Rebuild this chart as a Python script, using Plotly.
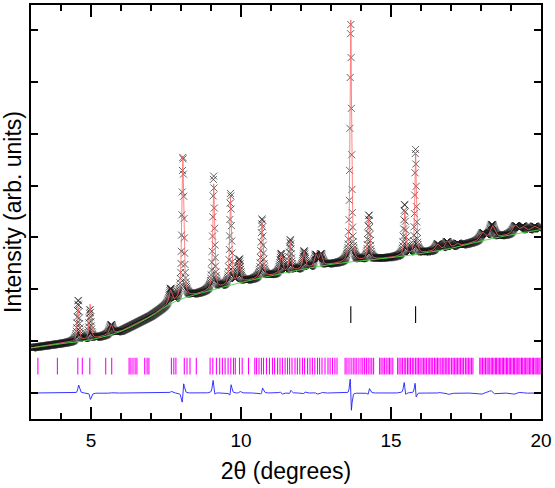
import numpy as np
import plotly.graph_objects as go

# ---------------- data ----------------
# background (green line) anchor points: 2theta, intensity
bg_x = [3.0, 4.0, 5.0, 6.0, 7.0, 7.5, 8.0, 9.0, 10.0, 11.0, 12.0, 13.0, 14.0,
        15.0, 16.0, 17.0, 18.0, 19.0, 20.0]
bg_y = [0.87, 0.95, 1.03, 1.19, 1.48, 1.67, 1.81, 1.98, 2.13, 2.26, 2.38, 2.48,
        2.55, 2.61, 2.69, 2.79, 2.93, 3.05, 3.15]

# Bragg peaks: position, height above background, FWHM
peak_pos = [4.57, 4.97, 5.67, 7.65, 8.06, 9.09, 9.65, 9.94, 10.70, 11.34,
            11.64, 12.10, 12.50, 12.66, 13.66, 14.26, 15.46, 15.82, 16.55,
            16.88, 17.20, 18.05, 18.38, 19.14, 19.40, 19.77]
peak_h = [0.66, 0.68, 0.18, 0.26, 2.74, 2.03, 1.68, 0.42, 1.08, 0.38,
          0.58, 0.34, 0.22, 0.22, 4.66, 0.82, 0.86, 1.95, 0.12,
          0.15, 0.06, 0.15, 0.24, 0.16, 0.10, 0.08]
peak_w = [0.08, 0.08, 0.12, 0.12, 0.08, 0.07, 0.07, 0.10, 0.08, 0.10,
          0.08, 0.10, 0.12, 0.12, 0.06, 0.08, 0.07, 0.06, 0.15,
          0.15, 0.15, 0.20, 0.18, 0.20, 0.20, 0.20]
# observed-vs-calculated mismatch per peak (gives the difference curve)
obs_shift = [0.004, -0.004, 0.003, 0.004, 0.004, -0.003, 0.003, 0.003,
             0.003, -0.004, 0.003, 0.004, -0.006, 0.006, -0.003, 0.004,
             -0.006, -0.003, 0.01, -0.012, 0.01, 0.015, -0.015, 0.012, -0.01, 0.01]
obs_scale = [1.20, 0.85, 1.0, 1.1, 1.0, 1.08, 1.05, 1.05, 1.05, 1.0,
             1.05, 1.0, 1.0, 1.0, 0.99, 1.05, 1.15, 1.04, 1.0,
             0.9, 1.0, 0.9, 1.1, 0.9, 1.1, 1.0]

# reflection markers
phase1_ticks = [3.23, 3.88, 4.56, 4.71, 4.96, 5.49, 5.69, 6.27, 6.33, 6.40, 6.47,
                6.53, 6.79, 6.87, 6.93, 7.68, 7.76, 7.83, 8.11, 8.20, 8.30, 8.51,
                8.97, 9.06, 9.18, 9.29, 9.38, 9.47, 9.57, 9.66, 9.75, 9.81, 9.95,
                10.04, 10.25, 10.46, 10.52, 10.60, 10.68, 10.75, 10.85, 10.95,
                11.05, 11.12, 11.22, 11.30, 11.38, 11.47, 11.55, 11.62, 11.70,
                11.80, 11.88, 11.96, 12.05, 12.12, 12.22, 12.30, 12.38, 12.46,
                12.55, 12.62, 12.70, 12.80, 12.90, 12.97, 13.05, 13.13, 13.20,
                13.47, 13.53, 13.60, 13.67, 13.74, 13.80, 13.86, 13.93, 14.00,
                14.06, 14.12, 14.18, 14.24, 14.30, 14.36, 14.42, 14.62, 14.67,
                14.73, 14.78, 14.84, 14.90, 14.95, 15.00, 15.06, 15.22, 15.27,
                15.33, 15.38, 15.44, 15.49, 15.55, 15.60, 15.65, 15.71, 15.76,
                15.82, 15.87, 15.92, 15.97, 16.03, 16.08, 16.13, 16.18, 16.24,
                16.29, 16.34, 16.39, 16.45, 16.50, 16.55, 16.60, 16.66, 16.71,
                16.76, 16.81, 16.86, 16.91, 16.96, 17.02, 17.07, 17.12, 17.17,
                17.22, 17.27, 17.32, 17.37, 17.42, 17.48, 17.53, 17.58, 17.63,
                17.68, 17.73, 17.96, 18.00, 18.05, 18.10, 18.15, 18.20, 18.24,
                18.29, 18.34, 18.38, 18.43, 18.48, 18.52, 18.57, 18.62, 18.66,
                18.71, 18.75, 18.80, 18.85, 18.89, 18.94, 18.98, 19.03, 19.08,
                19.12, 19.17, 19.21, 19.26, 19.30, 19.35, 19.39, 19.44, 19.48,
                19.53, 19.57, 19.62, 19.66, 19.71, 19.75, 19.80, 19.84, 19.89,
                19.93, 19.97]
phase2_ticks = [13.66, 15.82]
phase1_level = 0.52
phase2_level = 1.51
diff_offset = 0.0

# ---------------- profile construction ----------------
tth = np.round(np.arange(3.0, 20.0001, 0.01), 3)
bg = np.interp(tth, bg_x, bg_y)


def pv(x, p, h, w, eta=0.7):
    d = (x - p) / w
    return h * (eta / (1 + 4 * d * d) + (1 - eta) * np.exp(-4 * np.log(2) * d * d))


calc = bg.copy()
obs = bg.copy()
for p, h, w, s, k in zip(peak_pos, peak_h, peak_w, obs_shift, obs_scale):
    calc += pv(tth, p, h, w)
    obs += pv(tth, p + s, h * k, w)
diff = obs - calc + diff_offset

obs_color = "rgba(25,25,25,0.85)"
fig = go.Figure()
fig.add_trace(go.Scatter(
    x=tth, y=obs, mode="markers",
    marker=dict(symbol="x-thin-open", size=7, color=obs_color,
                line=dict(width=0.8, color=obs_color)),
    showlegend=False))
fig.add_trace(go.Scatter(x=tth, y=calc, mode="lines",
                         line=dict(color="rgb(255,100,100)", width=0.8),
                         showlegend=False))
fig.add_trace(go.Scatter(x=bg_x, y=bg_y, mode="lines", line_shape="spline",
                         line=dict(color="rgb(70,220,70)", width=0.9),
                         showlegend=False))
fig.add_trace(go.Scatter(x=tth, y=diff, mode="lines",
                         line=dict(color="rgb(30,30,255)", width=0.9),
                         showlegend=False))
fig.add_trace(go.Scatter(
    x=phase1_ticks, y=[phase1_level] * len(phase1_ticks), mode="markers",
    marker=dict(symbol="line-ns", size=12, color="rgb(255,0,255)",
                line=dict(width=1.1, color="rgb(255,0,255)")),
    showlegend=False))
fig.add_trace(go.Scatter(
    x=phase2_ticks, y=[phase2_level] * len(phase2_ticks), mode="markers",
    marker=dict(symbol="line-ns", size=12, color="black",
                line=dict(width=1.1, color="black")),
    showlegend=False))

axis_font = dict(family="Liberation Sans, Arial, sans-serif", size=19, color="black")
fig.update_layout(
    width=555, height=488,
    margin=dict(l=31, r=11, t=3, b=69),
    paper_bgcolor="white", plot_bgcolor="white",
    font=axis_font,
    xaxis=dict(range=[3, 20], tick0=5, dtick=5, ticks="inside", ticklen=12,
               tickwidth=1.5, tickcolor="black", showline=True, linewidth=2,
               linecolor="black", mirror="allticks", showgrid=False, zeroline=False,
               ticklabelstandoff=3,
               minor=dict(dtick=1, tick0=3, ticks="inside", ticklen=6, tickwidth=1.5,
                          tickcolor="black", showgrid=False),
               title=dict(text="2θ (degrees)", font=dict(size=23), standoff=13)),
    yaxis=dict(range=[-0.5, 7.48], tick0=0, dtick=1, ticks="inside", ticklen=7,
               tickwidth=1.5, tickcolor="black", showline=True, linewidth=2,
               linecolor="black", mirror="ticks", showgrid=False, zeroline=False,
               showticklabels=False,
               title=dict(text="Intensity (arb. units)", font=dict(size=23), standoff=3)),
)

fig.write_html("out.html")
